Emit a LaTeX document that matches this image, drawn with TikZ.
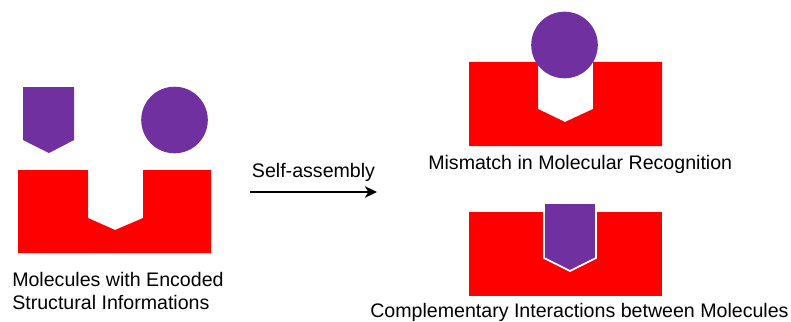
\documentclass[tikz,border=0pt]{standalone}
\usepackage{fontspec}
\setmainfont{Liberation Sans}
\usetikzlibrary{arrows.meta}
\definecolor{blockred}{HTML}{FF0000}
\definecolor{molpurple}{HTML}{7030A0}

\begin{document}
\begin{tikzpicture}[x=0.75pt,y=-0.75pt,
    caption/.style={inner sep=0pt, font=\fontsize{14.7}{17.25}\selectfont},
    block/.style={fill=blockred},
    mol/.style={fill=molpurple}]
    \useasboundingbox (0,0) rectangle (791,321);

    % before assembly
    \fill[mol] (23,87) -- (74,87) -- (74,140) -- (49,153) -- (23,140) -- cycle;
    \fill[mol] (174.5,120) circle (33.3);
    \fill[block] (18,170) -- (88,170) -- (88,218) -- (115,230) -- (143,218) -- (143,170) -- (211,170) -- (211,253) -- (18,253) -- cycle;
    \node[caption, anchor=north west, align=left] (encoded) at (12,272.5) {Molecules with Encoded\\Structural Informations};

    % mismatch
    \fill[block] (469,62) -- (538,62) -- (538,109) -- (565,122) -- (593,109) -- (593,62) -- (662,62) -- (662,146) -- (469,146) -- cycle;
    \fill[mol] (564.5,45) circle (33.3);
    \node[caption, anchor=base west] (mismatch) at (428,169) {Mismatch in Molecular Recognition};

    % complementary
    \fill[block] (469,212) rectangle (662,296);
    \filldraw[mol, draw=white, line width=1.2pt] (544,203) -- (596,203) -- (596,258) -- (570,271) -- (544,258) -- cycle;
    \node[caption, anchor=base west] (complement) at (370,317) {Complementary Interactions between Molecules};

    \coordinate (arrowstart) at (250,192);
    \coordinate (arrowend) at (377,192);
    \draw [-{Stealth[length=9pt,width=8.5pt,inset=2.5pt]}][black, line width=2pt] (arrowstart) -- (arrowend) node[caption, midway, above=6.6pt] (selfasm) {Self-assembly};
\end{tikzpicture}
\end{document}
